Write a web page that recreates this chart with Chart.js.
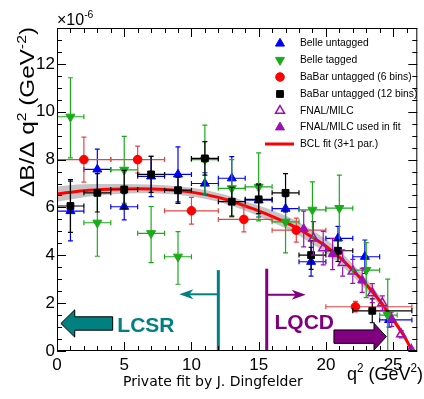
<!DOCTYPE html>
<html>
<head>
<meta charset="utf-8">
<script src="https://cdn.jsdelivr.net/npm/chart.js@4.4.0/dist/chart.umd.min.js"></script>
<style>
  html, body { margin: 0; padding: 0; background: #fff; }
</style>
</head>
<body>
<canvas id="chart" width="424" height="399"></canvas>
<script>
// Belle untagged (blue up triangles)
const belleUntagQ2 = [1, 3, 5, 7, 9, 11, 13, 15, 17, 18.9, 20.9, 22.9, 24.7];
const belleUntagLo = [0, 2, 4, 6, 8, 10, 12, 14, 16, 18, 20, 22, 24];
const belleUntagHi = [2, 4, 6, 8, 10, 12, 14, 16, 18, 20, 22, 24, 26.4];
const belleUntagVal = [5.85, 7.59, 6.03, 7.3, 7.38, 7.0, 7.22, 6.3, 5.95, 3.73, 4.71, 3.94, 1.3];
const belleUntagErr = [1.25, 0.85, 0.55, 0.85, 1.15, 0.45, 0.9, 0.7, 0.5, 0.6, 0.5, 0.7, 0.3];

// Belle tagged (green down triangles)
const belleTagQ2 = [1, 3, 5, 7, 9, 11, 13, 15, 17, 19, 21, 23, 24.6];
const belleTagLo = [0, 2, 4, 6, 8, 10, 12, 14, 16, 18, 20, 22, 24];
const belleTagHi = [2, 4, 6, 8, 10, 12, 14, 16, 18, 20, 22, 24, 25.3];
const belleTagVal = [9.79, 5.36, 7.57, 4.92, 3.94, 8.0, 6.8, 6.86, 5.4, 5.9, 5.97, 3.38, 1.5];
const belleTagErrUp = [1.63, 1.4, 1.4, 1.12, 1.05, 1.44, 1.2, 1.42, 1.3, 1.17, 1.38, 1.15, 1.5];
const belleTagErrDn = [1.72, 1.4, 1.4, 1.23, 1.15, 1.44, 1.2, 1.42, 1.3, 1.17, 1.38, 1.15, 1.5];

// BaBar untagged, 6 bins (red circles)
const babar6Q2 = [2, 6, 10, 13.9, 17.8, 22.2];
const babar6Lo = [0, 4, 8, 12, 16, 20];
const babar6Hi = [4, 8, 12, 16, 20, 26.4];
const babar6Val = [8.0, 8.0, 5.86, 5.5, 5.05, 1.85];
const babar6Err = [0.94, 0.56, 0.56, 0.52, 0.5, 0.22];

// BaBar untagged, 12 bins (black squares)
const babar12Q2 = [1, 3, 5, 7, 9, 11, 13, 15, 17, 18.9, 20.9, 23.45];
const babar12Lo = [0, 2, 4, 6, 8, 10, 12, 14, 16, 18, 20, 22];
const babar12Hi = [2, 4, 6, 8, 10, 12, 14, 16, 18, 20, 22, 26.4];
const babar12Val = [6.06, 6.61, 6.75, 7.38, 6.72, 8.05, 6.24, 6.34, 6.61, 4.01, 4.19, 1.68];
const babar12Err = [1.1, 0.8, 0.8, 0.75, 0.55, 0.7, 0.6, 0.6, 0.8, 0.6, 0.45, 0.5];

// FNAL/MILC lattice points (open) and the ones used in the fit (filled)
const fnalQ2 = [19.07, 19.8, 21.25, 22.0, 23.45, 24.2, 25.6, 26.35];
const fnalVal = [4.71, 4.3, 3.68, 3.33, 2.42, 2.0, 0.7, 0.05];
const fnalErr = [0.7, 0.7, 0.55, 0.5, 0.4, 0.3, 0.15, 0.05];
const fnalFitQ2 = [18.35, 20.5, 22.7, 24.9];
const fnalFitVal = [5.1, 4.05, 2.95, 1.33];
const fnalFitErr = [0.75, 0.65, 0.5, 0.3];

// BCL fit curve and its error band
const fitQ2 = [0, 2, 4, 6, 8, 10, 12, 13, 14, 15, 16, 17, 18, 19, 20, 21, 22, 23, 24, 25, 26, 26.4];
const fitVal = [6.56, 6.7, 6.76, 6.78, 6.75, 6.64, 6.42, 6.26, 6.06, 5.86, 5.63, 5.38, 5.1, 4.75, 4.38, 3.92, 3.38, 2.78, 2.1, 1.32, 0.45, 0];
const bandUp = [6.88, 6.97, 6.98, 6.97, 6.93, 6.82, 6.6, 6.45, 6.26, 6.08, 5.88, 5.65, 5.38, 5.04, 4.67, 4.2, 3.64, 3.02, 2.3, 1.47, 0.54, 0.03];
const bandDn = [6.24, 6.43, 6.54, 6.59, 6.57, 6.46, 6.24, 6.07, 5.86, 5.64, 5.39, 5.12, 4.83, 4.47, 4.1, 3.65, 3.13, 2.55, 1.9, 1.17, 0.36, 0];

// axis ticks
const xTicks = [0, 5, 10, 15, 20, 25];
const yTicks = [0, 2, 4, 6, 8, 10, 12];

const FONT = "'Liberation Sans', Arial, Helvetica, sans-serif";
const BLUE = "#0000ff", GREEN = "#1aab1a", RED = "#ff0000", BLACK = "#000000";
const PURPLE = "#9c10b4", TEAL = "#008080", DPURPLE = "#800080";

const pts = (xs, ys) => xs.map((x, i) => ({ x, y: ys[i] }));

// error bars, drawn just before each data set's markers
const errorBars = {
  id: "errorBars",
  beforeDatasetDraw(chart, args) {
    const ds = chart.data.datasets[args.index];
    if (!ds.eUp) return;
    const { ctx, chartArea: a, scales: { x, y } } = chart;
    ctx.save();
    ctx.beginPath();
    ctx.rect(a.left, a.top, a.right - a.left, a.bottom - a.top);
    ctx.clip();
    ctx.strokeStyle = ds.barColor;
    ctx.lineWidth = 1.2;
    const cap = 2.5;
    ds.data.forEach((p, i) => {
      const px = x.getPixelForValue(p.x);
      const py = y.getPixelForValue(p.y);
      const top = y.getPixelForValue(p.y + ds.eUp[i]);
      const bot = y.getPixelForValue(p.y - ds.eDn[i]);
      const gap = ds.gap || 0;
      ctx.beginPath();
      ctx.moveTo(px, top); ctx.lineTo(px, py - gap);
      ctx.moveTo(px, py + gap); ctx.lineTo(px, bot);
      ctx.moveTo(px - cap, top); ctx.lineTo(px + cap, top);
      ctx.moveTo(px - cap, bot); ctx.lineTo(px + cap, bot);
      if (ds.xLo) {
        const l = x.getPixelForValue(ds.xLo[i]);
        const r = x.getPixelForValue(ds.xHi[i]);
        ctx.moveTo(l, py); ctx.lineTo(r, py);
        ctx.moveTo(l, py - cap); ctx.lineTo(l, py + cap);
        ctx.moveTo(r, py - cap); ctx.lineTo(r, py + cap);
      }
      ctx.stroke();
    });
    ctx.restore();
  },
};

function richText(ctx, x, y, parts, size, align, fitWidth) {
  let w = 0;
  parts.forEach((p) => {
    ctx.font = (p.sup ? size * 0.65 : size) + "px " + FONT;
    w += ctx.measureText(p.t).width;
  });
  const k = fitWidth ? fitWidth / w : 1;
  ctx.save();
  ctx.translate(x, y);
  ctx.scale(k, 1);
  let cx = align === "center" ? -w / 2 : align === "right" ? -w : 0;
  ctx.textBaseline = "alphabetic";
  ctx.textAlign = "left";
  parts.forEach((p) => {
    const s = p.sup ? size * 0.65 : size;
    ctx.font = s + "px " + FONT;
    ctx.fillText(p.t, cx, p.sup ? -size * 0.42 : 0);
    cx += ctx.measureText(p.t).width;
  });
  ctx.restore();
}

function blockArrow(ctx, xs, ys, tail, base, tip, yc, body, head, color) {
  const X = (v) => xs.getPixelForValue(v);
  const Y = (v) => ys.getPixelForValue(v);
  const cy = Y(yc);
  const bh = Y(yc) - Y(yc + body);
  const hh = Y(yc) - Y(yc + head);
  ctx.beginPath();
  ctx.moveTo(X(tail), cy - bh);
  ctx.lineTo(X(base), cy - bh);
  ctx.lineTo(X(base), cy - hh);
  ctx.lineTo(X(tip), cy);
  ctx.lineTo(X(base), cy + hh);
  ctx.lineTo(X(base), cy + bh);
  ctx.lineTo(X(tail), cy + bh);
  ctx.closePath();
  ctx.fillStyle = color;
  ctx.fill();
  ctx.strokeStyle = "#000";
  ctx.lineWidth = 1;
  ctx.stroke();
}

function thinArrow(ctx, xs, ys, xLine, yTop, yArrow, xTip, color) {
  const X = (v) => xs.getPixelForValue(v);
  const Y = (v) => ys.getPixelForValue(v);
  ctx.strokeStyle = color;
  ctx.fillStyle = color;
  ctx.lineWidth = 3;
  ctx.beginPath();
  ctx.moveTo(X(xLine), Y(0));
  ctx.lineTo(X(xLine), Y(yTop));
  ctx.stroke();
  const dir = Math.sign(X(xTip) - X(xLine));
  const tx = X(xTip), ty = Y(yArrow);
  ctx.lineWidth = 2;
  ctx.beginPath();
  ctx.moveTo(X(xLine), ty);
  ctx.lineTo(tx - dir * 8, ty);
  ctx.stroke();
  ctx.beginPath();
  ctx.moveTo(tx, ty);
  ctx.lineTo(tx - dir * 14, ty - 5);
  ctx.lineTo(tx - dir * 10, ty);
  ctx.lineTo(tx - dir * 14, ty + 5);
  ctx.closePath();
  ctx.fill();
}

function legendMarker(ctx, style, x, y) {
  ctx.fillStyle = style.fill;
  ctx.strokeStyle = style.stroke;
  ctx.lineWidth = style.bw;
  Chart.helpers.drawPoint(ctx, { pointStyle: style.ps, radius: style.r, rotation: style.rot || 0, borderWidth: style.bw }, x, y);
}

// frame, ticks, labels, legend and annotations
const decorations = {
  id: "decorations",
  afterDatasetsDraw(chart) {
    const { ctx, chartArea: a, scales: { x, y } } = chart;
    ctx.save();

    // LCSR / LQCD annotations
    thinArrow(ctx, x, y, 12, 3.38, 2.37, 9.1, TEAL);
    thinArrow(ctx, x, y, 15.6, 3.44, 2.35, 18.5, DPURPLE);
    blockArrow(ctx, x, y, 4.14, 1.32, 0.29, 1.15, 0.28, 0.57, TEAL);
    blockArrow(ctx, x, y, 20.6, 23.58, 24.5, 0.6, 0.28, 0.56, DPURPLE);
    ctx.font = "bold 21px " + FONT;
    ctx.textAlign = "left";
    ctx.textBaseline = "alphabetic";
    ctx.fillStyle = TEAL;
    ctx.fillText("LCSR", x.getPixelForValue(4.49), y.getPixelForValue(0.8));
    ctx.fillStyle = DPURPLE;
    ctx.fillText("LQCD", x.getPixelForValue(16.18), y.getPixelForValue(0.9));

    // frame
    ctx.strokeStyle = "#000";
    ctx.lineWidth = 1;
    ctx.strokeRect(a.left + 0.5, a.top + 0.5, a.right - a.left - 1, a.bottom - a.top - 1);
    ctx.beginPath();
    for (let v = 0; v <= x.max; v += 1) {
      const px = Math.round(x.getPixelForValue(v)) + 0.5;
      const len = v % 5 === 0 ? 9 : 5;
      ctx.moveTo(px, a.bottom); ctx.lineTo(px, a.bottom - len);
      ctx.moveTo(px, a.top); ctx.lineTo(px, a.top + len);
    }
    for (let v = 0; v <= y.max; v += 0.5) {
      const py = Math.round(y.getPixelForValue(v)) + 0.5;
      const len = v % 2 === 0 ? 9 : 5;
      ctx.moveTo(a.left, py); ctx.lineTo(a.left + len, py);
      ctx.moveTo(a.right, py); ctx.lineTo(a.right - len, py);
    }
    ctx.stroke();

    // tick labels
    ctx.fillStyle = "#000";
    ctx.font = "17px " + FONT;
    ctx.textAlign = "center";
    ctx.textBaseline = "top";
    xTicks.forEach((v) => ctx.fillText(String(v), x.getPixelForValue(v), 357));
    ctx.textAlign = "right";
    ctx.textBaseline = "middle";
    yTicks.forEach((v) => ctx.fillText(String(v), 55, y.getPixelForValue(v)));

    // exponent and titles
    richText(ctx, 57, 25, [{ t: "\u00d710" }, { t: "-6", sup: true }], 16, "left");
    richText(ctx, 347, 380, [{ t: "q" }, { t: "2", sup: true }, { t: " (GeV" }, { t: "2", sup: true }, { t: ")" }], 19, "left", 76);
    ctx.save();
    ctx.translate(34, 112);
    ctx.rotate(-Math.PI / 2);
    richText(ctx, 0, 0, [{ t: "\u0394B/\u0394 q" }, { t: "2", sup: true }, { t: " (GeV" }, { t: "-2", sup: true }, { t: ")" }], 20, "center", 170);
    ctx.restore();
    ctx.font = "14px 'DejaVu Sans', " + FONT;
    ctx.textAlign = "left";
    ctx.textBaseline = "alphabetic";
    ctx.fillText("Private fit by J. Dingfelder", 123, 386, 187);

    // legend
    const rows = [
      { label: "Belle untagged", m: { ps: "triangle", r: 5.2, fill: BLUE, stroke: BLUE, bw: 1 } },
      { label: "Belle tagged", m: { ps: "triangle", r: 5.2, rot: 180, fill: GREEN, stroke: GREEN, bw: 1 } },
      { label: "BaBar untagged (6 bins)", m: { ps: "circle", r: 4.3, fill: RED, stroke: RED, bw: 1 } },
      { label: "BaBar untagged (12 bins)", m: { ps: "rect", r: 4.8, fill: BLACK, stroke: BLACK, bw: 1 } },
      { label: "FNAL/MILC", m: { ps: "triangle", r: 5.2, fill: "rgba(0,0,0,0)", stroke: PURPLE, bw: 1.5 } },
      { label: "FNAL/MILC used in fit", m: { ps: "triangle", r: 5.2, fill: PURPLE, stroke: PURPLE, bw: 1 } },
      { label: "BCL fit (3+1 par.)", line: true },
    ];
    const rowY = [43.5, 60, 77, 94, 110.7, 127.3, 144];
    rows.forEach((row, i) => {
      const ry = rowY[i];
      if (row.line) {
        ctx.strokeStyle = RED;
        ctx.lineWidth = 3;
        ctx.beginPath();
        ctx.moveTo(265, ry); ctx.lineTo(294, ry);
        ctx.stroke();
      } else {
        legendMarker(ctx, row.m, 280, ry);
      }
      ctx.fillStyle = "#000";
      ctx.font = "10.3px " + FONT;
      ctx.textAlign = "left";
      ctx.textBaseline = "middle";
      ctx.fillText(row.label, 300, ry);
    });

    ctx.restore();
  },
};

new Chart(document.getElementById("chart").getContext("2d"), {
  type: "scatter",
  data: {
    datasets: [
      {
        label: "band low",
        data: pts(fitQ2, bandDn),
        showLine: true,
        borderWidth: 0,
        pointRadius: 0,
        fill: false,
        cubicInterpolationMode: "monotone",
        order: 20,
      },
      {
        label: "band high",
        data: pts(fitQ2, bandUp),
        showLine: true,
        borderWidth: 0,
        pointRadius: 0,
        backgroundColor: "#c4c4c4",
        fill: "-1",
        cubicInterpolationMode: "monotone",
        order: 19,
      },
      {
        label: "BCL fit (3+1 par.)",
        data: pts(fitQ2, fitVal),
        showLine: true,
        borderColor: RED,
        borderWidth: 3,
        pointRadius: 0,
        cubicInterpolationMode: "monotone",
        order: 18,
      },
      {
        label: "Belle untagged",
        data: pts(belleUntagQ2, belleUntagVal),
        xLo: belleUntagLo, xHi: belleUntagHi, eUp: belleUntagErr, eDn: belleUntagErr,
        barColor: BLUE,
        pointStyle: "triangle", pointRadius: 5.2,
        backgroundColor: BLUE, borderColor: BLUE, borderWidth: 1,
        order: 6,
      },
      {
        label: "Belle tagged",
        data: pts(belleTagQ2, belleTagVal),
        xLo: belleTagLo, xHi: belleTagHi, eUp: belleTagErrUp, eDn: belleTagErrDn,
        barColor: GREEN,
        pointStyle: "triangle", rotation: 180, pointRadius: 5.2,
        backgroundColor: GREEN, borderColor: GREEN, borderWidth: 1,
        order: 5,
      },
      {
        label: "BaBar untagged (6 bins)",
        data: pts(babar6Q2, babar6Val),
        xLo: babar6Lo, xHi: babar6Hi, eUp: babar6Err, eDn: babar6Err,
        barColor: "#e84545",
        pointStyle: "circle", pointRadius: 4.3,
        backgroundColor: RED, borderColor: RED, borderWidth: 1,
        order: 4,
      },
      {
        label: "BaBar untagged (12 bins)",
        data: pts(babar12Q2, babar12Val),
        xLo: babar12Lo, xHi: babar12Hi, eUp: babar12Err, eDn: babar12Err,
        barColor: BLACK,
        pointStyle: "rect", pointRadius: 4.8,
        backgroundColor: BLACK, borderColor: BLACK, borderWidth: 1,
        order: 3,
      },
      {
        label: "FNAL/MILC",
        data: pts(fnalQ2, fnalVal),
        eUp: fnalErr, eDn: fnalErr, gap: 4,
        barColor: PURPLE,
        pointStyle: "triangle", pointRadius: 5.2,
        backgroundColor: "rgba(0,0,0,0)", borderColor: PURPLE, borderWidth: 1.5,
        order: 2,
      },
      {
        label: "FNAL/MILC used in fit",
        data: pts(fnalFitQ2, fnalFitVal),
        eUp: fnalFitErr, eDn: fnalFitErr,
        barColor: PURPLE,
        pointStyle: "triangle", pointRadius: 5.2,
        backgroundColor: PURPLE, borderColor: PURPLE, borderWidth: 1,
        order: 1,
      },
    ],
  },
  options: {
    responsive: false,
    animation: false,
    layout: { padding: { left: 57, right: 2, top: 28, bottom: 48 } },
    scales: {
      x: { type: "linear", min: 0, max: 26.8, display: false },
      y: { type: "linear", min: 0, max: 13.5, display: false },
    },
    plugins: {
      legend: { display: false },
      tooltip: { enabled: false },
    },
  },
  plugins: [errorBars, decorations],
});
</script>
</body>
</html>
